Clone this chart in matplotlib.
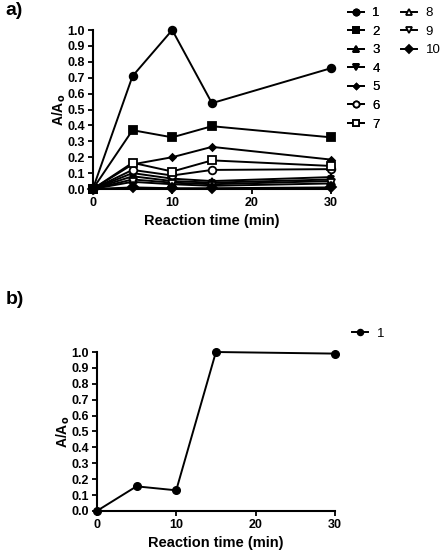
import matplotlib
matplotlib.use("Agg")
import matplotlib.pyplot as plt

plt.rcParams['font.family'] = ['Liberation Sans', 'DejaVu Sans']

times = [0, 5, 10, 15, 30]
labels_a = ['1', '2', '3', '4', '5', '6', '7', '8', '9', '10']
series_a = [
    [0, 0.71, 1.0, 0.54, 0.76],
    [0, 0.37, 0.325, 0.395, 0.325],
    [0, 0.10, 0.065, 0.05, 0.075],
    [0, 0.08, 0.05, 0.04, 0.06],
    [0, 0.155, 0.20, 0.265, 0.185],
    [0, 0.12, 0.085, 0.12, 0.125],
    [0, 0.165, 0.11, 0.18, 0.145],
    [0, 0.06, 0.04, 0.03, 0.05],
    [0, 0.045, 0.03, 0.02, 0.035],
    [0, 0.01, 0.005, 0.005, 0.01],
]
markers_a = ['o', 's', '^', 'v', 'D', 'o', 's', '^', 'v', 'D']
filled_a = [True, True, True, True, True, False, False, False, False, True]
sizes_a = [5.5, 5.5, 5, 5, 3.5, 5.5, 5.5, 5.5, 5.5, 5]

labels_b = ['1']
series_b = [[0, 0.155, 0.13, 1.0, 0.99]]

fig = plt.figure(figsize=(4.42, 5.52), dpi=100)

def style(ax):
    ax.set_xlim(0, 30)
    ax.set_ylim(0, 1.0)
    ax.spines['top'].set_visible(False)
    ax.spines['right'].set_visible(False)
    for s in ['left', 'bottom']:
        ax.spines[s].set_linewidth(1.5)
    ax.set_xticks([0, 10, 20, 30])
    ax.set_yticks([i / 10 for i in range(11)])
    ax.set_yticklabels([f"{i/10:.1f}" for i in range(11)])
    ax.tick_params(width=1.3, length=3.5, labelsize=9, pad=2)
    for t in ax.get_xticklabels() + ax.get_yticklabels():
        t.set_fontweight('bold')
    ax.set_xlabel('Reaction time (min)', fontsize=10.5, fontweight='bold', labelpad=4)
    ax.set_ylabel(r'A/A$_\mathbf{o}$', fontsize=10, fontweight='bold', labelpad=0)

axa = fig.add_axes([0.210, 0.6576, 0.539, 0.288])
handles = []
for y, m, f, ms, lab in zip(series_a, markers_a, filled_a, sizes_a, labels_a):
    ln, = axa.plot(times, y, color='black', lw=1.4, marker=m, ms=ms,
                   mfc='black' if f else 'white', mec='black', mew=1.3,
                   clip_on=False, label=lab, zorder=3)
    handles.append(ln)
style(axa)

leg_kw = dict(loc='upper left', frameon=False, fontsize=9.5,
              handlelength=1.2, handletextpad=0.65, labelspacing=0.48,
              borderaxespad=0, markerscale=0.8)
leg1 = fig.legend(handles[:7], labels_a[:7], bbox_to_anchor=(0.775, 0.997), **leg_kw)
leg2 = fig.legend(handles[7:], labels_a[7:], bbox_to_anchor=(0.896, 0.997), **leg_kw)
fig.add_artist(leg1)

axb = fig.add_axes([0.219, 0.0743, 0.539, 0.288])
hb = []
for y, lab in zip(series_b, labels_b):
    ln, = axb.plot(times, y, color='black', lw=1.4, marker='o', ms=5.5,
                   mfc='black', mec='black', clip_on=False, label=lab, zorder=3)
    hb.append(ln)
style(axb)
fig.legend(hb, labels_b, bbox_to_anchor=(0.785, 0.416), **leg_kw)

fig.text(0.012, 0.997, 'a)', fontsize=14, fontweight='bold', va='top', ha='left')
fig.text(0.012, 0.472, 'b)', fontsize=14, fontweight='bold', va='top', ha='left')

fig.savefig('out.png', dpi=100)
